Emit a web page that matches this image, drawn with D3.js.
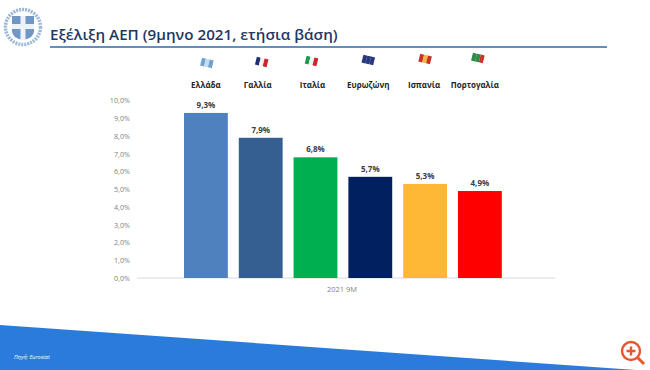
<!DOCTYPE html>
<html>
<head>
  <meta charset="utf-8">
  <title>Εξέλιξη ΑΕΠ</title>
  <style>
    html, body { margin: 0; padding: 0; background: #fff; }
    svg { display: block; }
    text { font-family: "Open Sans", sans-serif; }
  </style>
</head>
<body>
  <div id="chart"></div>
  <script src="https://d3js.org/d3.v7.min.js"></script>
  <script>
    const categories = ['Ελλάδα', 'Γαλλία', 'Ιταλία', 'Ευρωζώνη', 'Ισπανία', 'Πορτογαλία'];
    const values = [9.3, 7.9, 6.8, 5.7, 5.3, 4.9];
    const ticks = [0, 1, 2, 3, 4, 5, 6, 7, 8, 9, 10];
    const periodLabel = '2021 9M';
    const title = 'Εξέλιξη ΑΕΠ (9μηνο 2021, ετήσια βάση)';
    const source = 'Πηγή: Eurostat';

    const barColors = ['#4e81bd', '#355f91', '#00b050', '#002060', '#ffb735', '#ff0000'];
    const flagColors = [
      ['#6fa3cf', '#c9dcec', '#6fa3cf'],
      ['#1c2f6e', '#f2f2f2', '#d0202e'],
      ['#1e9a50', '#f2f2f2', '#d0202e'],
      ['#27377f', '#27377f', '#27377f'],
      ['#c9302c', '#f0b93a', '#c9302c'],
      ['#2e8b47', '#2e8b47', '#d0302c']
    ];
    // small per-label shifts, the labels were placed by hand in the slide
    const labelShift = [0, -3, -3, -2, -1, -5];
    const flagShift = [1, 1, -4, -2, 0, -2];
    const flagY = [63, 62, 61, 60, 59, 58];

    const width = 650, height = 370;
    const svg = d3.select('#chart').append('svg')
      .attr('width', width)
      .attr('height', height);

    const defs = svg.append('defs');
    defs.append('filter').attr('id', 'soft')
      .append('feGaussianBlur').attr('stdDeviation', 0.5);

    // footer band
    svg.append('path')
      .attr('d', `M0,325L${width},371L${width},${height}L0,${height}Z`)
      .attr('fill', '#2b7bdc');
    svg.append('text')
      .attr('x', 14).attr('y', 359)
      .attr('font-size', 5.5).attr('font-style', 'italic')
      .attr('fill', '#fff')
      .text(source);

    // emblem
    const emblem = svg.append('g').attr('transform', 'translate(23,27)').attr('filter', 'url(#soft)');
    emblem.append('circle').attr('r', 17.5).attr('fill', 'none')
      .attr('stroke', '#9db8d6').attr('stroke-width', 3.5).attr('stroke-dasharray', '2 1');
    emblem.append('path')
      .attr('d', 'M-11,-11H11V4Q11,11 0,13Q-11,11 -11,4Z')
      .attr('fill', '#6f97c6');
    emblem.append('path')
      .attr('d', 'M-2.5,-11H2.5V-3H11V2H2.5V13H-2.5V2H-11V-3H-2.5Z')
      .attr('fill', '#eef3f9');

    // heading
    svg.append('text')
      .attr('x', 50).attr('y', 40)
      .attr('font-size', 15.2).attr('font-weight', 600)
      .attr('fill', '#1f3864')
      .text(title);
    svg.append('line')
      .attr('x1', 50).attr('x2', 607)
      .attr('y1', 47).attr('y2', 47)
      .attr('stroke', '#2f6aa8').attr('stroke-width', 1.6);

    // chart
    const x = d3.scaleBand().domain(categories).range([184, 501.8]).paddingInner(0.2).paddingOuter(0);
    const y = d3.scaleLinear().domain([0, 10]).range([278, 100.5]);

    const yAxis = d3.axisLeft(y)
      .tickValues(ticks)
      .tickSize(0)
      .tickPadding(0)
      .tickFormat(d => d3.format('.1f')(d).replace('.', ',') + '%');
    svg.append('g')
      .attr('transform', 'translate(130,0)')
      .call(yAxis)
      .call(g => g.select('.domain').remove())
      .call(g => g.selectAll('text')
        .attr('font-size', 7.2)
        .attr('fill', '#7f7f7f'));

    svg.append('line')
      .attr('x1', 137).attr('x2', 555)
      .attr('y1', y(0)).attr('y2', y(0))
      .attr('stroke', '#d9d9d9');

    svg.append('g').selectAll('rect')
      .data(values)
      .join('rect')
      .attr('x', (d, i) => x(categories[i]))
      .attr('y', d => y(d))
      .attr('width', x.bandwidth())
      .attr('height', d => y(0) - y(d))
      .attr('fill', (d, i) => barColors[i]);

    svg.append('g').selectAll('text')
      .data(values)
      .join('text')
      .attr('x', (d, i) => x(categories[i]) + x.bandwidth() / 2)
      .attr('y', d => y(d) - 5)
      .attr('text-anchor', 'middle')
      .attr('font-size', 8).attr('font-weight', 700)
      .attr('fill', '#404040')
      .text(d => String(d).replace('.', ',') + '%');

    svg.append('text')
      .attr('x', 342).attr('y', 292)
      .attr('text-anchor', 'middle')
      .attr('font-size', 7.5)
      .attr('fill', '#7f7f7f')
      .text(periodLabel);

    // country names above the bars
    svg.append('g').selectAll('text')
      .data(categories)
      .join('text')
      .attr('x', (d, i) => x(d) + x.bandwidth() / 2 + labelShift[i])
      .attr('y', 88)
      .attr('text-anchor', 'middle')
      .attr('font-size', 8).attr('font-weight', 700)
      .attr('fill', '#262626')
      .text(d => d);

    // little waving flags, three skewed stripes each
    const flags = svg.append('g').attr('filter', 'url(#soft)')
      .selectAll('g')
      .data(categories)
      .join('g')
      .attr('transform', (d, i) =>
        `translate(${x(d) + x.bandwidth() / 2 + flagShift[i]},${flagY[i]}) rotate(14)`);
    flags.selectAll('rect')
      .data((d, i) => flagColors[i])
      .join('rect')
      .attr('x', (d, i) => -6 + i * 4)
      .attr('y', -4)
      .attr('width', 4)
      .attr('height', 8)
      .attr('fill', d => d);

    // zoom badge
    const badge = svg.append('g')
      .attr('transform', 'translate(631,351)')
      .attr('fill', 'none').attr('stroke', '#e8572a');
    badge.append('circle').attr('r', 9).attr('stroke-width', 2.4);
    badge.append('path').attr('d', 'M7,7L13,13').attr('stroke-width', 3);
    badge.append('path').attr('d', 'M-4.5,0H4.5M0,-4.5V4.5').attr('stroke-width', 2.4);
  </script>
</body>
</html>
